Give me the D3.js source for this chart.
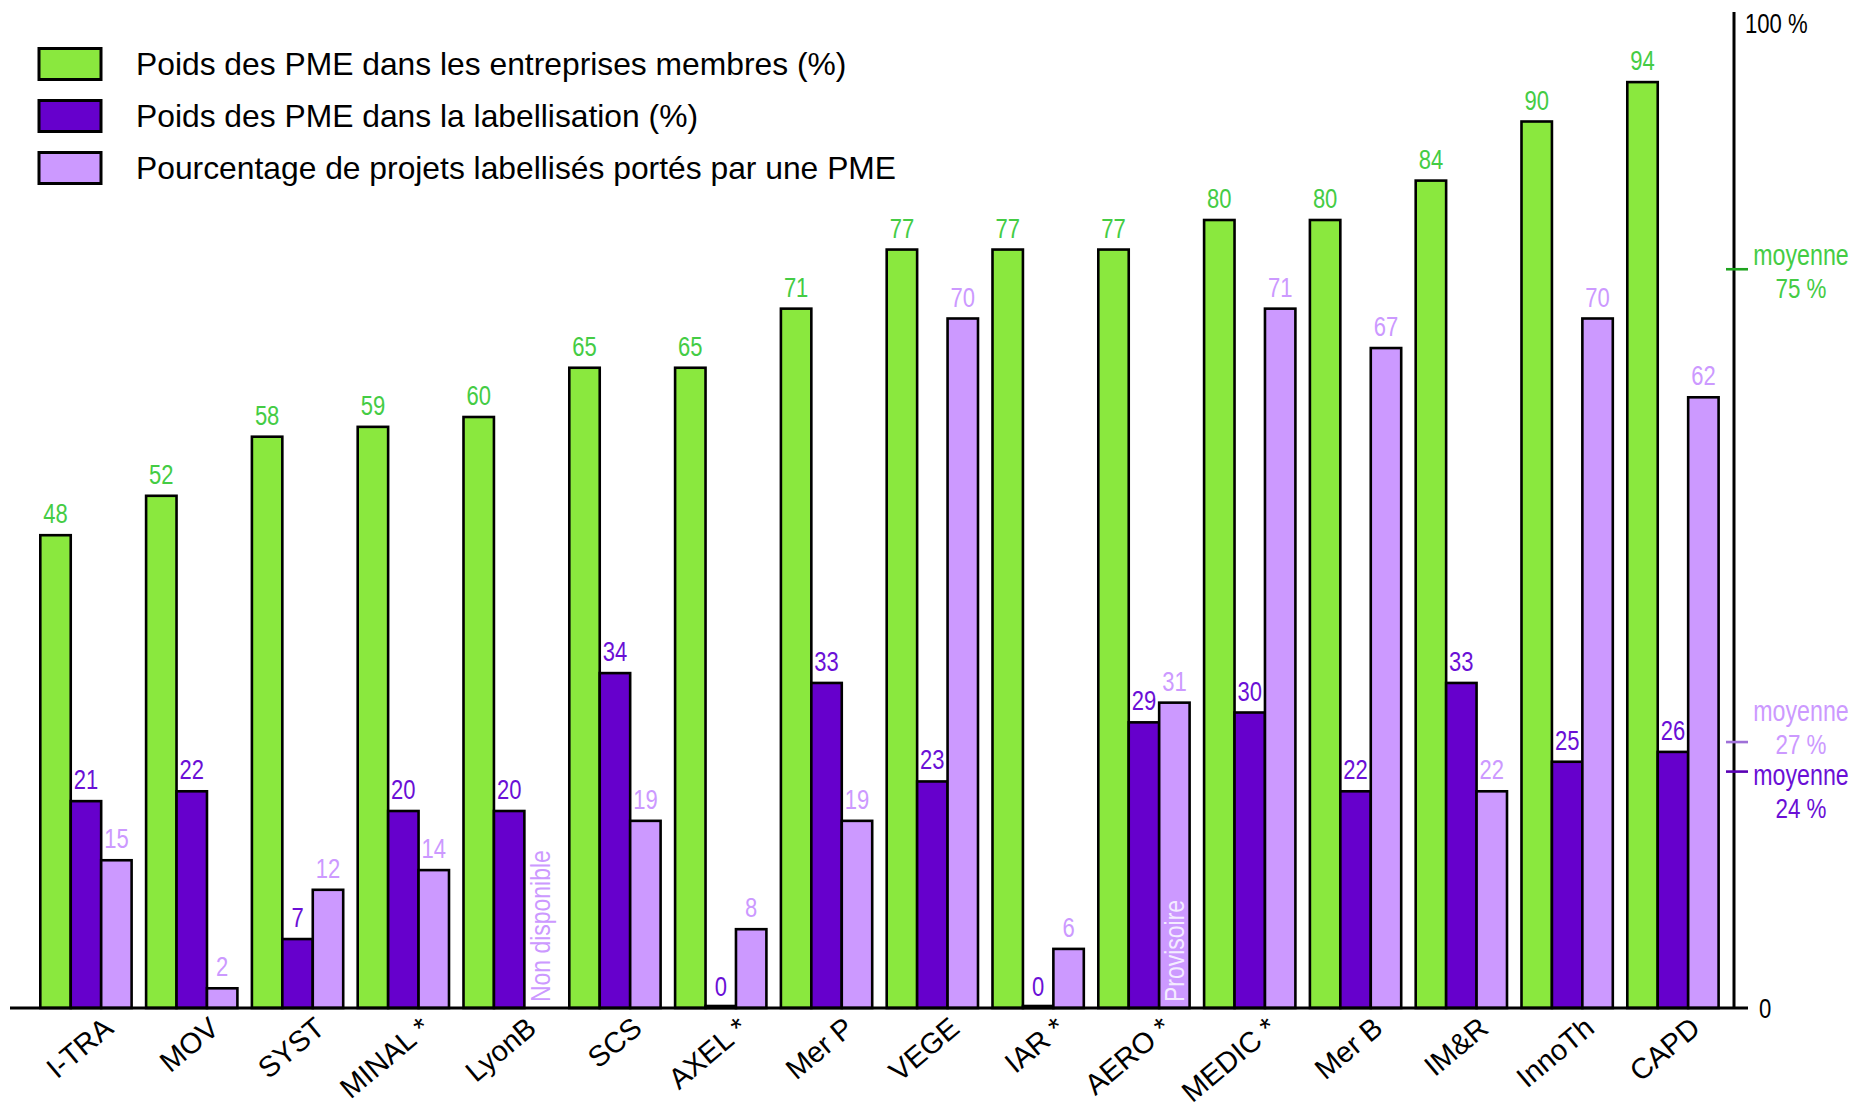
<!DOCTYPE html>
<html>
<head>
<meta charset="utf-8">
<script src="https://cdn.jsdelivr.net/npm/d3@7"></script>
<style>
  html, body { margin: 0; padding: 0; background: #fff; }
  svg { display: block; }
  .narrow { font-family: "Liberation Sans", Arial, Helvetica, sans-serif; }
  .wide { font-family: "Liberation Sans", Arial, Helvetica, sans-serif; }
</style>
</head>
<body>
<svg id="chart" width="1857" height="1110"></svg>
<script>
// ---------------- DATA ----------------
const categories = ["I-TRA", "MOV", "SYST", "MINAL *", "LyonB", "SCS", "AXEL *", "Mer P",
                    "VEGE", "IAR *", "AERO *", "MEDIC *", "Mer B", "IM&R", "InnoTh", "CAPD"];
const seriesNames = ["Poids des PME dans les entreprises membres (%)",
                     "Poids des PME dans la labellisation (%)",
                     "Pourcentage de projets labellisés portés par une PME"];
const membres       = [48, 52, 58, 59, 60, 65, 65, 71, 77, 77, 77, 80, 80, 84, 90, 94];
const labellisation = [21, 22, 7, 20, 20, 34, 0, 33, 23, 0, 29, 30, 22, 33, 25, 26];
const projets       = [15, 2, 12, 14, null, 19, 8, 19, 70, 6, 31, 71, 67, 22, 70, 62];
const moyenneValues = [75, 27, 24];
const moyenneSeries = [0, 2, 1];
const moyenneWord = "moyenne";
const axisTickValues = [0, 100];
const axisTickLabels = ["0", "100 %"];
const notes = [
  { category: "LyonB",  series: 2, text: "Non disponible" },
  { category: "AERO *", series: 2, text: "Provisoire" }
];

// ---------------- STYLE ----------------
const fills      = ["#8AE83E", "#6600CC", "#CC99FF"];
const textColors = ["#44CC44", "#6A0FD6", "#CC99FF"];
const tickColors = ["#1FA31F", "#5A00B4", "#9F70D8"];
const noteColors = { "Non disponible": "#CC99FF", "Provisoire": "#F4ECFF" };
const K = 0.8; // horizontal condensation of the narrow labels

const seriesValues = [membres, labellisation, projets];
const svg = d3.select("#chart");

const x = d3.scaleBand().domain(categories).range([40.3, 1718.6]).paddingInner(0.137).paddingOuter(0);
const xs = d3.scaleBand().domain([0, 1, 2]).range([0, x.bandwidth()]).padding(0);
const y = d3.scaleLinear().domain([0, 100]).range([1008, 23]);
const axisX = 1734;

function place(px, py, rot, k) {
  return `translate(${px},${py})` + (rot ? ` rotate(${rot})` : "") + ` scale(${k},1)`;
}

// ---------------- BARS ----------------
const rows = [];
categories.forEach((c, i) => {
  seriesValues.forEach((vals, s) => {
    rows.push({ category: c, series: s, value: vals[i] });
  });
});
const valid = rows.filter(d => d.value !== null);

svg.append("g").selectAll("rect").data(valid).join("rect")
  .attr("x", d => x(d.category) + xs(d.series))
  .attr("width", xs.bandwidth())
  .attr("y", d => Math.min(y(d.value), y(0) - 2))
  .attr("height", d => Math.max(y(0) - y(d.value), 2))
  .attr("fill", d => fills[d.series])
  .attr("stroke", "#000")
  .attr("stroke-width", 2.6);

// value labels
svg.append("g").attr("class", "narrow")
  .selectAll("text").data(valid).join("text")
  .attr("transform", d => place(x(d.category) + xs(d.series) + xs.bandwidth() / 2, y(d.value) - 12, 0, K))
  .attr("text-anchor", "middle")
  .attr("font-size", 27.5)
  .attr("fill", d => textColors[d.series])
  .text(d => d.value);

// notes (vertical texts)
svg.append("g").attr("class", "narrow")
  .selectAll("text").data(notes).join("text")
  .attr("transform", d => place(x(d.category) + xs(d.series) + xs.bandwidth() / 2, y(0) - 6, -90, K + 0.02))
  .attr("dy", "0.36em")
  .attr("font-size", 28)
  .attr("fill", d => noteColors[d.text])
  .text(d => d.text);

// baseline
svg.append("line")
  .attr("x1", 10).attr("x2", axisX + 14)
  .attr("y1", y(0)).attr("y2", y(0))
  .attr("stroke", "#000").attr("stroke-width", 3);

// right axis
svg.append("line")
  .attr("x1", axisX).attr("x2", axisX)
  .attr("y1", y(0)).attr("y2", y(100) - 11)
  .attr("stroke", "#000").attr("stroke-width", 3);

svg.append("g").attr("class", "narrow")
  .selectAll("text").data(axisTickValues).join("text")
  .attr("transform", (d, i) => place(i === 0 ? axisX + 25 : axisX + 11, y(d) + 10, 0, 0.82))
  .attr("font-size", 27)
  .attr("fill", "#000")
  .text((d, i) => axisTickLabels[i]);

// moyenne markers
const mData = moyenneValues.map((v, i) => ({ v, s: moyenneSeries[i], base: y(v) - 4 }));
const sorted = mData.slice().sort((a, b) => a.base - b.base);
for (let k = 1; k < sorted.length; k++) {
  const a = sorted[k - 1], b = sorted[k];
  const need = 64;
  if (b.base - a.base < need) {
    const mid = (a.base + b.base) / 2;
    a.base = mid - need / 2;
    b.base = mid + need / 2;
  }
}
const gM = svg.append("g");
gM.selectAll("line").data(mData).join("line")
  .attr("x1", axisX - 8).attr("x2", axisX + 14)
  .attr("y1", d => y(d.v)).attr("y2", d => y(d.v))
  .attr("stroke", d => tickColors[d.s]).attr("stroke-width", 2.6);
gM.selectAll("text.w").data(mData).join("text")
  .attr("class", "w narrow")
  .attr("text-anchor", "middle")
  .attr("font-size", 29)
  .attr("fill", d => textColors[d.s])
  .attr("transform", d => place(1801, d.base, 0, K))
  .text(moyenneWord);
gM.selectAll("text.p").data(mData).join("text")
  .attr("class", "p narrow")
  .attr("text-anchor", "middle")
  .attr("font-size", 28)
  .attr("fill", d => textColors[d.s])
  .attr("transform", d => place(1801, d.base + 33, 0, K))
  .text(d => d.v + " %");

// category labels
svg.append("g").attr("class", "wide")
  .selectAll("text").data(categories).join("text")
  .attr("transform", d => `translate(${x(d) + x.bandwidth() / 2 + 29},${y(0) + 23}) rotate(-40)`)
  .attr("text-anchor", "end")
  .attr("font-size", 29)
  .attr("fill", "#000")
  .text(d => d);

// legend
const lg = svg.append("g").attr("class", "wide");
const legendY = d3.scalePoint().domain([0, 1, 2]).range([64, 168]);
lg.selectAll("rect").data(seriesNames).join("rect")
  .attr("x", 39).attr("y", (d, i) => legendY(i) - 15.5)
  .attr("width", 62).attr("height", 31)
  .attr("fill", (d, i) => fills[i])
  .attr("stroke", "#000").attr("stroke-width", 3);
lg.selectAll("text").data(seriesNames).join("text")
  .attr("x", 136).attr("y", (d, i) => legendY(i))
  .attr("dy", "0.36em")
  .attr("font-size", 31.8)
  .attr("fill", "#000")
  .text(d => d);
</script>
</body>
</html>
